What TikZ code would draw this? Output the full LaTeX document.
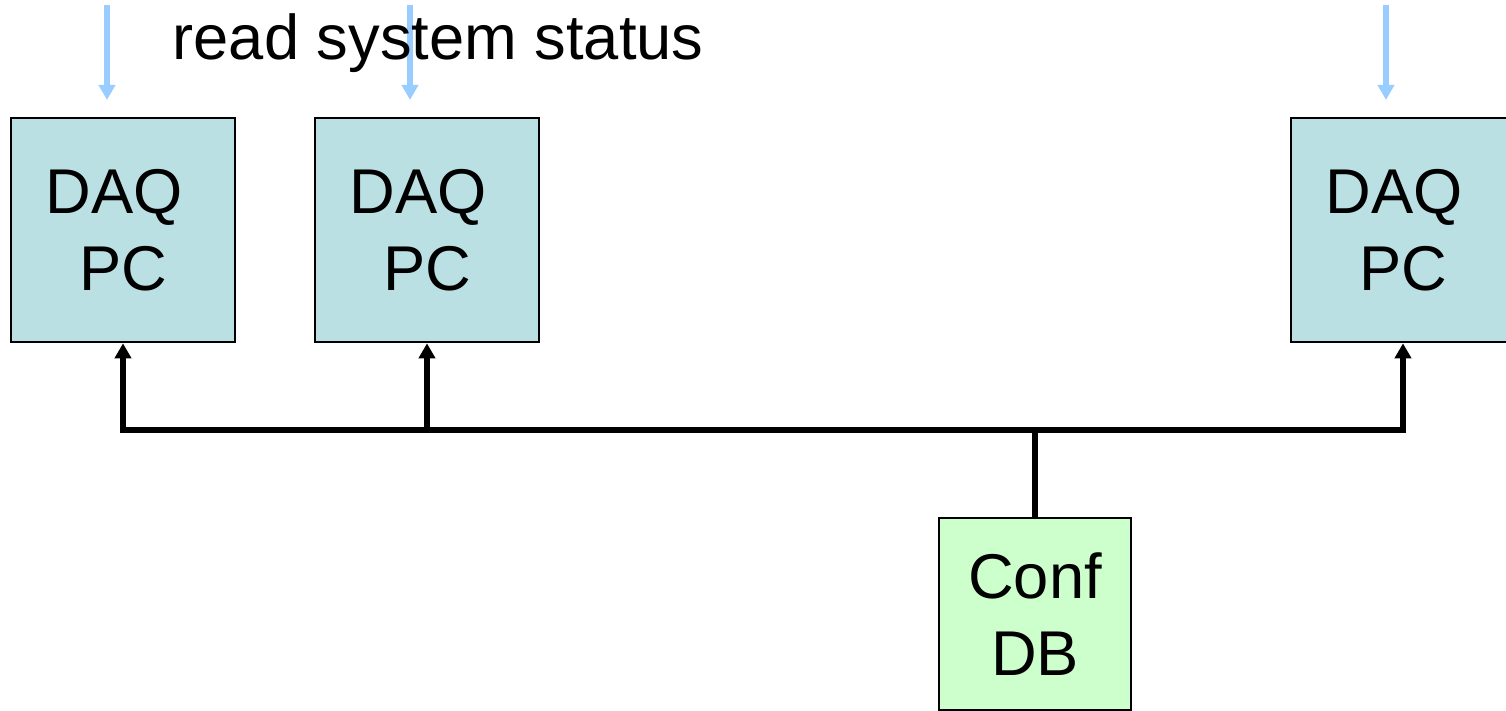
\documentclass[tikz,border=0pt]{standalone}
\usepackage{fontspec}
\setmainfont{Liberation Sans}
\usepackage{xcolor}
\usepackage{tikz}
\usetikzlibrary{arrows.meta,calc}
\definecolor{CajaDAQ}{RGB}{187,224,227}
\definecolor{CajaConf}{RGB}{204,255,204}
\definecolor{AzulLectura}{RGB}{153,204,255}

\begin{document}
\begin{tikzpicture}[>={Triangle[length=1.5mm,width=1.6mm]},
  daqbox/.style={draw=black,line width=0.75pt,fill=CajaDAQ,minimum size=2.24cm,
    inner sep=0pt,align=center,font=\fontsize{18}{22}\selectfont},
  confbox/.style={daqbox,fill=CajaConf,minimum size=1.92cm},
  busline/.style={line width=1.5pt},
  readline/.style={line width=1.6pt,AzulLectura}]
  \useasboundingbox (0,0) rectangle (15.06,7.11);
  % caja de PCs y base de datos
  \node[daqbox] (daq1) at (1.23,4.81) {DAQ\kern0.28em\\PC};
  \node[daqbox] (daq2) at (4.27,4.81) {DAQ\kern0.28em\\PC};
  \node[daqbox] (daq3) at (14.03,4.81) {DAQ\kern0.28em\\PC};
  \node[confbox] (conf) at (10.35,0.97) {Conf\\DB};
  % bus comun
  \coordinate (bus) at (0,2.81);
  \draw[busline] (conf.north) -- (conf.north |- bus);
  \draw[busline,<->] (daq1.south) |- (daq3.south |- bus) -- (daq3.south);
  \draw[busline,->] (daq2.south |- bus) -- (daq2.south);
  % lectura del estado
  \coordinate (r1) at (1.07,7.06);
  \coordinate (r2) at (4.10,7.06);
  \coordinate (r3) at (13.86,7.06);
  \draw[readline,->] (r1) -- (r1 |- 0,6.11);
  \draw[readline,->] (r2) -- (r2 |- 0,6.11);
  \draw[readline,->] (r3) -- (r3 |- 0,6.11);
  \node[anchor=base west,inner sep=0pt,font=\fontsize{18}{22}\selectfont] (leer)
    at (1.72,6.51) {read system status};
\end{tikzpicture}
\end{document}
